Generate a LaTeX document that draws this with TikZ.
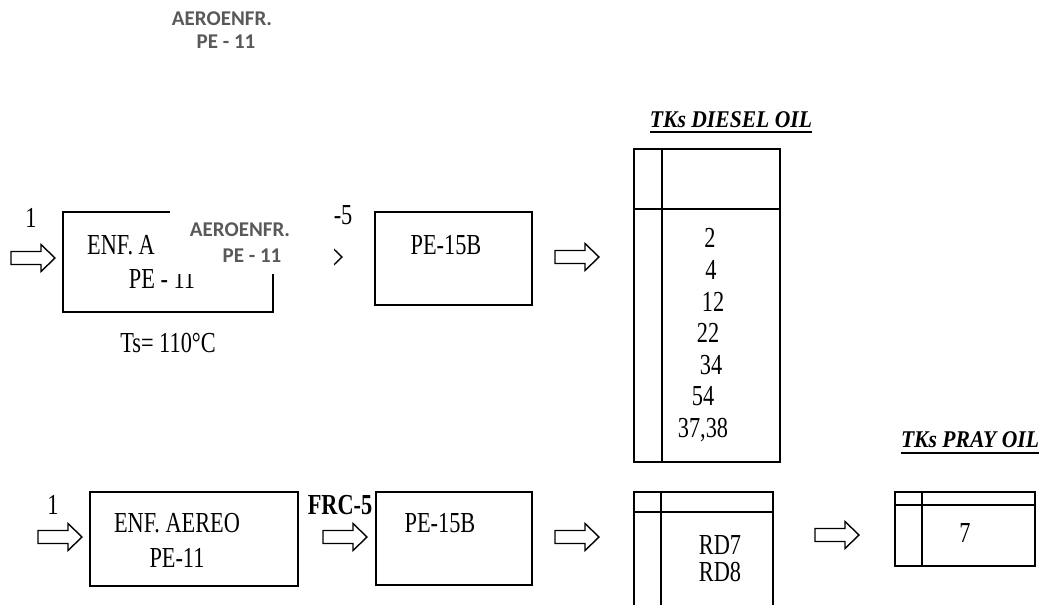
\documentclass[tikz,border=0pt]{standalone}
\usepackage{fontspec}
\setmainfont{Liberation Serif}[FakeStretch=0.77]
\newfontfamily\titlefont{Liberation Serif}[FakeStretch=0.9]
\newfontfamily\calib{Carlito}
\usetikzlibrary{calc}
\definecolor{ovgray}{HTML}{595959}
\tikzset{
  box/.style={draw, line width=1.8pt, inner sep=0pt},
  tankline/.style={line width=1.6pt},
  txt/.style={inner sep=0pt, font=\fontsize{29}{33}\selectfont},
  bold txt/.style={inner sep=0pt, font=\fontsize{29}{33}\selectfont\bfseries},
  ttl/.style={inner sep=0pt, font=\titlefont\fontsize{24}{26}\selectfont\bfseries\itshape},
  grey txt/.style={inner sep=0pt, text=ovgray, font=\calib\fontsize{21}{24}\selectfont\bfseries},
  underln/.style={line width=1.6pt},
  blockarrow/.pic={\draw[line width=1.4pt, line join=miter]
     (0,0) -- (-14,13.5) -- (-14,6.5) -- (-44,6.5) -- (-44,-6.5) -- (-14,-6.5) -- (-14,-13.5) -- cycle;}
}
\begin{document}
\begin{tikzpicture}[x=1pt,y=-1pt]
\clip (0,0) rectangle (1050,605);
\fill[white] (0,0) rectangle (1050,605);

% top-left grey label
\node[grey txt] (g1) at (222,19) {AEROENFR.};
\node[grey txt] (g2) at (226,42) {PE - 11};

% ---------- top row ----------
\node[txt] (one1) at (31,218) {1};
\pic (a1) at (55,258) {blockarrow};
\node[box, minimum width=210pt, minimum height=100pt] (b1) at (168,262) {};
\node[txt, anchor=west] (b1a) at (87,245) {ENF. A};
\node[txt] (b1b) at (162,279) {PE - 11};
\node[txt] (ts) at (168,343) {Ts= 110°C};
\node[txt] (frc1) at (322,215) {FRC-5};
\pic (a2) at (342,257) {blockarrow};
\node[box, minimum width=157pt, minimum height=93pt] (p1) at (453.5,258.5) {};
\node[txt] (p1t) at (446,245) {PE-15B};
\pic (a3) at (599,257) {blockarrow};

% white overlay with grey label
\fill[white] (170,203) rectangle (334,274);
\node[grey txt] (g3) at (240,230) {AEROENFR.};
\node[grey txt] (g4) at (252,256) {PE - 11};

% diesel tanks
\node[ttl] (tdt) at (731,120) {TKs DIESEL OIL};
\draw[underln] ($(tdt.base west)+(0,4)$) -- ($(tdt.base east)+(0,4)$);
\node[box, minimum width=146pt, minimum height=313pt] (d) at (707,305.5) {};
\draw[tankline] ($(d.north west)+(29,0)$) -- ($(d.south west)+(29,0)$);
\draw[tankline] ($(d.north west)+(0,61)$) -- ($(d.north east)+(0,61)$);
\node[txt] (n1) at (710,238) {2};
\node[txt] (n2) at (711,270) {4};
\node[txt] (n3) at (713,302) {12};
\node[txt] (n4) at (708,333) {22};
\node[txt] (n5) at (711,365) {34};
\node[txt] (n6) at (703,396) {54};
\node[txt] (n7) at (703,430) {37,38};

% ---------- bottom row ----------
\node[txt] (one2) at (53,505) {1};
\pic (a4) at (82,537) {blockarrow};
\node[box, minimum width=208pt, minimum height=94pt] (b2) at (194,539) {};
\node[txt, align=center, font=\fontsize{29}{35}\selectfont] (b2t) at (177,540) {ENF. AEREO\\PE-11};
\node[bold txt] (frc2) at (340,505) {FRC-5};
\pic (a5) at (367,537) {blockarrow};
\node[box, minimum width=156pt, minimum height=93pt] (p2) at (454,538.5) {};
\node[txt] (p2t) at (440,523) {PE-15B};
\pic (a6) at (599,537) {blockarrow};

\node[box, minimum width=139pt, minimum height=150pt] (r) at (703.5,567) {};
\draw[tankline] ($(r.north west)+(28,0)$) -- ($(r.south west)+(28,0)$);
\draw[tankline] ($(r.north west)+(0,21)$) -- ($(r.north east)+(0,21)$);
\node[txt] (rd7) at (720,545) {RD7};
\node[txt] (rd8) at (720,572) {RD8};
\pic (a7) at (859,535) {blockarrow};

\node[ttl] (tpt) at (970,440) {TKs PRAY OIL};
\draw[underln] ($(tpt.base west)+(0,5)$) -- ($(tpt.base east)+(0,5)$);
\node[box, minimum width=140pt, minimum height=74pt] (pr) at (965,529) {};
\draw[tankline] ($(pr.north west)+(28,0)$) -- ($(pr.south west)+(28,0)$);
\draw[tankline] ($(pr.north west)+(0,14)$) -- ($(pr.north east)+(0,14)$);
\node[txt] (seven) at (965,533) {7};
\end{tikzpicture}
\end{document}
